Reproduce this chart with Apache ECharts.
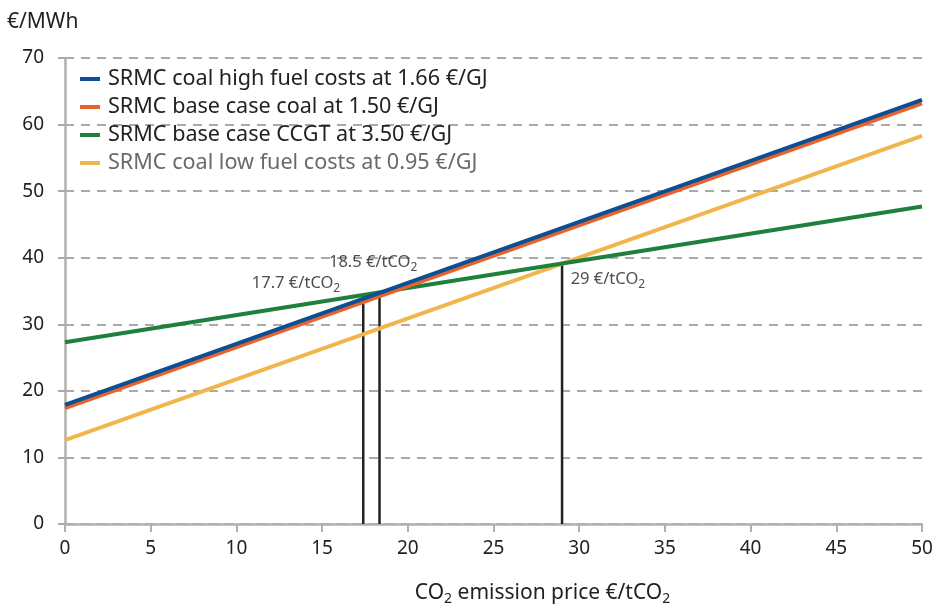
<!DOCTYPE html>
<html><head><meta charset="utf-8">
<script src="https://cdn.jsdelivr.net/npm/echarts@6/dist/echarts.min.js"></script>
<style>html,body{margin:0;padding:0;background:#fff}#c{width:937px;height:605px}</style>
</head><body><div id="c"></div>
<script>
var xEnds = [0, 50];
var seriesNames = [
  'SRMC coal high fuel costs at 1.66 €/GJ',
  'SRMC base case coal at 1.50 €/GJ',
  'SRMC base case CCGT at 3.50 €/GJ',
  'SRMC coal low fuel costs at 0.95 €/GJ'
];
var highCoal = [17.9, 63.7];
var baseCoal = [17.4, 63.2];
var ccgt = [27.3, 47.7];
var lowCoal = [12.6, 58.3];
var colors = ['#0c4f93', '#e8622c', '#1f803d', '#f0b64c'];
var vlineX = [17.4, 18.35, 29];
var vlineTop = [33.1, 34.3, 39.0];
var annoText = ['17.7', '18.5', '29'];
var annoX = [10.9, 15.4, 29.5];
var annoY = [36.2, 39.3, 36.8];
var yTicks = [0, 10, 20, 30, 40, 50, 60, 70];

var FONT = 'Noto Sans';
function pairs(ys){ return xEnds.map(function(x,i){ return [x, ys[i]]; }); }
var vals = [highCoal, baseCoal, ccgt, lowCoal];
var series = vals.map(function(v,i){
  return {name: seriesNames[i], type:'line', data: pairs(v), symbol:'none',
    lineStyle:{color:colors[i], width:4}, itemStyle:{color:colors[i]}, z: 10 - i};
});
vlineX.forEach(function(x,i){
  series.push({type:'line', data:[[x,0],[x,vlineTop[i]]], symbol:'none', silent:true,
    lineStyle:{color:'#222', width:2.5}, z:3});
});
series.push({type:'scatter', symbolSize:0, silent:true,
  data: annoX.map(function(x,i){ return [x, annoY[i], annoText[i]]; }),
  label:{show:true, position:'right', distance:0,
    formatter:function(p){ return '{t|' + p.data[2] + ' €/tCO}{s|2}'; },
    rich:{t:{fontFamily:FONT, fontSize:16.5, color:'#222'}, s:{fontFamily:FONT, fontSize:12, color:'#222', verticalAlign:'bottom', padding:[11,0,0,0]}}
  }});

var chart = echarts.init(document.getElementById('c'));
chart.setOption({
  animation:false,
  grid:{left:65, right:15, top:58, bottom:81, containLabel:false, outerBoundsMode:'none'},
  legend:{show:true, left:75, top:63, orient:'vertical', itemGap:6, itemWidth:20, itemHeight:4,
    icon:'rect', data: seriesNames.map(function(n,i){ return {name:n, textStyle:{color: i===3 ? '#6a6a6a' : '#222'}}; }),
    textStyle:{fontFamily:FONT, fontSize:21.6, lineHeight:22, color:'#222', padding:[0,0,0,3]}},
  xAxis:{type:'value', min:0, max:50, interval:5,
    axisLine:{lineStyle:{color:'#b0b0b2', width:2.5}},
    axisTick:{show:true, length:8, lineStyle:{color:'#b0b0b2', width:2}},
    axisLabel:{fontFamily:FONT, fontSize:19, color:'#222', margin:15},
    splitLine:{show:false},
    name:'{t|CO}{s|2}{t| emission price €/tCO}{s|2}', nameLocation:'middle', nameGap:57,
    nameTextStyle:{padding:[0,0,0,98], rich:{t:{fontFamily:FONT, fontSize:21, color:'#222'}, s:{fontFamily:FONT, fontSize:14, color:'#222', padding:[11,0,0,0]}}}
  },
  yAxis:{type:'value', min:0, max:70, interval:10,
    axisLine:{show:true, lineStyle:{color:'#b0b0b2', width:2.5}},
    axisTick:{show:true, length:10, lineStyle:{color:'#aaaaac', width:2, type:[7,6]}},
    axisLabel:{fontFamily:FONT, fontSize:19, color:'#222', margin:21},
    splitLine:{show:true, lineStyle:{color:'#aaaaac', width:2, type:[9,7]}},
    name:'€/MWh', nameLocation:'end', nameGap:25,
    nameTextStyle:{fontFamily:FONT, fontSize:21, color:'#222', align:'left', padding:[0,0,0,-58]}
  },
  series: series
});
</script></body></html>
